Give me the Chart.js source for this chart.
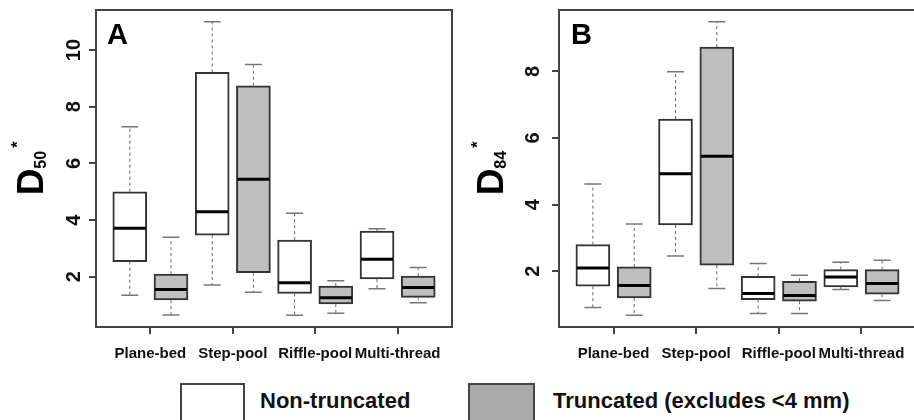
<!DOCTYPE html>
<html>
<head>
<meta charset="utf-8">
<script src="https://cdn.jsdelivr.net/npm/chart.js@4/dist/chart.umd.min.js"></script>
<style>
  html, body { margin: 0; padding: 0; width: 914px; height: 420px; overflow: hidden; background: #fff; }
  body { position: relative; font-family: "Liberation Sans", Arial, sans-serif; }
  canvas { position: absolute; top: 0; }
  #chartA { left: 0; }
  #chartB { left: 460px; }
  .key { position: absolute; top: 383px; height: 50px; border: 2px solid #444; box-sizing: border-box; }
  .key-text { position: absolute; top: 386px; line-height: 30px; font-size: 22px; font-weight: bold; color: #111; white-space: nowrap; }
</style>
</head>
<body>
<canvas id="chartA" width="470" height="375"></canvas>
<canvas id="chartB" width="470" height="375"></canvas>

<div class="key" style="left:180px; width:65px; background:#fff;"></div>
<div class="key-text" style="left:260px;">Non-truncated</div>
<div class="key" style="left:468px; width:67px; background:#aaaaaa;"></div>
<div class="key-text" style="left:553px;">Truncated (excludes &lt;4 mm)</div>

<script>
const categories = ['Plane-bed', 'Step-pool', 'Riffle-pool', 'Multi-thread'];

// five-number summaries per stream type: [min, q1, median, q3, max]
const d50NonTruncated = [[1.35, 2.53, 3.71, 5.00, 7.29], [1.71, 3.47, 4.29, 9.21, 11.0], [0.64, 1.41, 1.79, 3.29, 4.24], [1.58, 1.92, 2.62, 3.61, 3.69]];
const d50Truncated    = [[0.65, 1.18, 1.55, 2.09, 3.39], [1.45, 2.14, 5.44, 8.74, 9.49], [0.71, 1.04, 1.26, 1.67, 1.86], [1.08, 1.27, 1.62, 2.02, 2.33]];
const d84NonTruncated = [[0.91, 1.55, 2.10, 2.80, 4.62], [2.46, 3.39, 4.93, 6.57, 7.99], [0.73, 1.15, 1.33, 1.85, 2.23], [1.45, 1.53, 1.83, 2.05, 2.27]];
const d84Truncated    = [[0.68, 1.20, 1.57, 2.13, 3.42], [1.48, 2.18, 5.45, 8.73, 9.49], [0.73, 1.10, 1.27, 1.70, 1.88], [1.12, 1.31, 1.63, 2.05, 2.33]];

const d50Ticks = [2, 4, 6, 8, 10];
const d84Ticks = [2, 4, 6, 8];

const BOX_EDGE = '#333';
const BOX_GRAY = '#bfbfbf';

// y range like R: data range stretched by 4% each side
function yRange(a, b) {
  const all = a.concat(b).flat();
  const lo = Math.min(...all), hi = Math.max(...all);
  const pad = (hi - lo) * 0.04;
  return [lo - pad, hi + pad];
}

// whiskers, staples, medians, frame, panel letter and axis title
const boxParts = {
  id: 'boxParts',
  afterDatasetsDraw(chart, args, opts) {
    const { ctx, chartArea: area, scales: { y } } = chart;
    ctx.save();
    chart.data.datasets.forEach((ds, di) => {
      const meta = chart.getDatasetMeta(di);
      ds.stats.forEach((s, j) => {
        const bar = meta.data[j];
        const cx = bar.x, half = bar.width / 2;
        const [mn, q1, med, q3, mx] = s.map(v => y.getPixelForValue(v));
        // dashed whiskers
        ctx.setLineDash([3, 3]);
        ctx.strokeStyle = '#666';
        ctx.lineWidth = 1;
        ctx.beginPath();
        ctx.moveTo(cx, q3); ctx.lineTo(cx, mx);
        ctx.moveTo(cx, q1); ctx.lineTo(cx, mn);
        ctx.stroke();
        // staples
        ctx.setLineDash([]);
        ctx.strokeStyle = '#777';
        ctx.lineWidth = 1.5;
        ctx.beginPath();
        ctx.moveTo(cx - half / 2, mx); ctx.lineTo(cx + half / 2, mx);
        ctx.moveTo(cx - half / 2, mn); ctx.lineTo(cx + half / 2, mn);
        ctx.stroke();
        // median
        ctx.strokeStyle = '#000';
        ctx.lineWidth = 3;
        ctx.beginPath();
        ctx.moveTo(cx - half + 1, med); ctx.lineTo(cx + half - 1, med);
        ctx.stroke();
      });
    });

    // plot frame
    ctx.strokeStyle = '#444';
    ctx.lineWidth = 2;
    ctx.strokeRect(area.left, area.top, area.right - area.left, area.bottom - area.top);

    // panel letter
    ctx.fillStyle = '#000';
    ctx.font = 'bold 29px "Liberation Sans", Arial, sans-serif';
    ctx.textAlign = 'left';
    ctx.textBaseline = 'alphabetic';
    ctx.fillText(opts.letter, area.left + opts.letterDx, area.top + 34);

    // rotated axis title D with subscript and star
    const bigFont = 'bold 37px "Liberation Sans", Arial, sans-serif';
    const smallFont = 'bold 16px "Liberation Sans", Arial, sans-serif';
    ctx.font = bigFont;
    const wD = ctx.measureText('D').width;
    ctx.font = smallFont;
    const wSub = ctx.measureText(opts.sub).width;
    const wStar = ctx.measureText('*').width;
    const total = wD + wSub + wStar + 3;
    const midY = (area.top + area.bottom) / 2;
    ctx.translate(area.left - opts.titleDx, midY + total / 2);
    ctx.rotate(-Math.PI / 2);
    ctx.font = bigFont;
    ctx.fillText('D', 0, 0);
    ctx.font = smallFont;
    ctx.fillText(opts.sub, wD, 3);
    ctx.fillText('*', wD + wSub + 3, -20);
    ctx.restore();
  }
};

function makePanel(canvasId, nonTrunc, trunc, ticks, deco) {
  const [yMin, yMax] = yRange(nonTrunc, trunc);
  const boxSet = (label, stats, offset, fill) => ({
    label,
    stats,
    data: stats.map((s, i) => ({ x: 2 * i + offset, y: [s[1], s[3]] })),
    backgroundColor: fill,
    borderColor: BOX_EDGE,
    borderWidth: 2,
    borderSkipped: false,
    barThickness: 34,
    grouped: false
  });

  return new Chart(document.getElementById(canvasId), {
    type: 'bar',
    data: {
      datasets: [
        boxSet('Non-truncated', nonTrunc, 1, '#ffffff'),
        boxSet('Truncated (excludes <4 mm)', trunc, 2, BOX_GRAY)
      ]
    },
    options: {
      responsive: false,
      animation: false,
      layout: { padding: { top: 10, left: 0, right: deco.padRight, bottom: 0 } },
      plugins: {
        legend: { display: false },
        tooltip: { enabled: false },
        boxParts: deco
      },
      scales: {
        x: {
          type: 'linear',
          min: 0.18,
          max: 8.82,
          offset: false,
          afterBuildTicks: s => { s.ticks = categories.map((c, i) => ({ value: 2 * i + 1.5 })); },
          afterFit: s => { s.height = 48; s.paddingLeft = s.paddingRight = 0; },
          ticks: {
            autoSkip: false,
            minRotation: 0,
            maxRotation: 0,
            padding: 11,
            color: '#111',
            font: { family: '"Liberation Sans", Arial, sans-serif', size: 15, weight: 'bold' },
            callback: (v, i) => categories[i]
          },
          grid: { offset: false, drawOnChartArea: false, tickLength: 7, color: '#444', lineWidth: 2 },
          border: { display: false }
        },
        y: {
          type: 'linear',
          min: yMin,
          max: yMax,
          afterBuildTicks: s => { s.ticks = ticks.map(v => ({ value: v })); },
          afterFit: s => { s.width = deco.axisWidth; s.paddingTop = s.paddingBottom = 0; },
          ticks: {
            autoSkip: false,
            minRotation: 90,
            maxRotation: 90,
            crossAlign: 'center',
            padding: deco.tickPad,
            color: '#111',
            font: { family: '"Liberation Sans", Arial, sans-serif', size: 20, weight: 'bold' }
          },
          grid: { drawOnChartArea: false, tickLength: 7, color: '#444', lineWidth: 2 },
          border: { display: false }
        }
      }
    },
    plugins: [boxParts]
  });
}

makePanel('chartA', d50NonTruncated, d50Truncated, d50Ticks,
  { letter: 'A', sub: '50', letterDx: 11, titleDx: 53, tickPad: 3, axisWidth: 96, padRight: 18 });
makePanel('chartB', d84NonTruncated, d84Truncated, d84Ticks,
  { letter: 'B', sub: '84', letterDx: 12, titleDx: 56, tickPad: 13, axisWidth: 99, padRight: 14 });
</script>
</body>
</html>
